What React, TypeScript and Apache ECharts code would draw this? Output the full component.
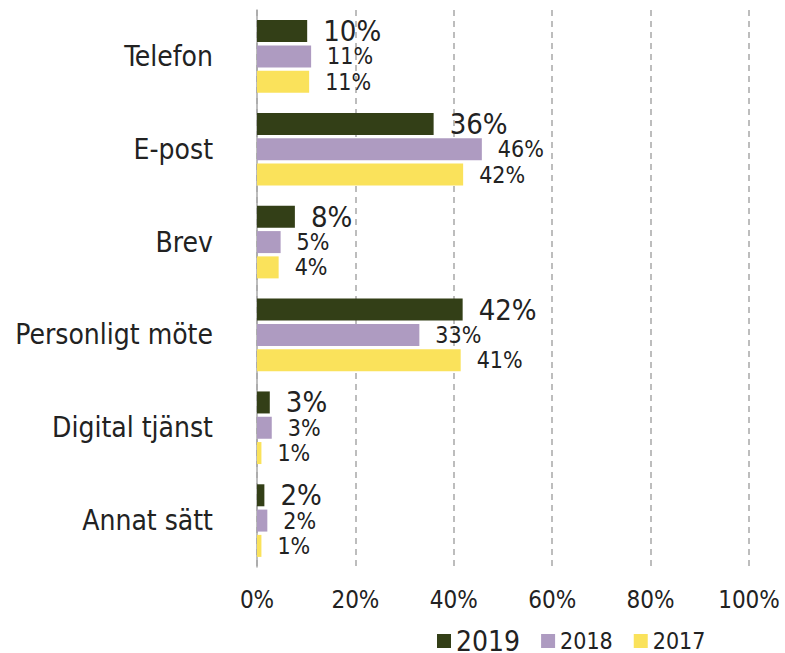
import React, { useEffect, useRef } from "react";
import * as echarts from "echarts";

const categories = ["Telefon", "E-post", "Brev", "Personligt möte", "Digital tjänst", "Annat sätt"];
const years = ["2019", "2018", "2017"];
const values2019 = [10.2, 35.9, 7.7, 41.8, 2.6, 1.5];
const values2018 = [11.0, 45.7, 4.8, 33.0, 3.0, 2.1];
const values2017 = [10.6, 41.9, 4.4, 41.4, 0.9, 0.9];
const labels2019 = [10, 36, 8, 42, 3, 2];
const labels2018 = [11, 46, 5, 33, 3, 2];
const labels2017 = [11, 42, 4, 41, 1, 1];
const xTicks = [0, 20, 40, 60, 80, 100];

const FONT = '"DejaVu Sans Condensed", "DejaVu Sans", sans-serif';
const colors = ["#333f17", "#ae9bc1", "#fae25b"];

export default function App() {
  const ref = useRef<HTMLDivElement>(null);
  useEffect(() => {
    if (!ref.current) return;
    const chart = echarts.init(ref.current, null, { renderer: "svg" });
    const seriesData = [values2019, values2018, values2017];
    const seriesLabels = [labels2019, labels2018, labels2017];
    const labelSizes = [29, 23, 23];
    chart.setOption({
      animation: false,
      backgroundColor: "#ffffff",
      textStyle: { fontFamily: FONT },
      grid: { left: 257, right: 36, top: 10, bottom: 86, containLabel: false },
      legend: {
        left: 432,
        top: 622,
        itemWidth: 14,
        itemHeight: 14,
        itemGap: 21,
        icon: "rect",
        data: years.map((y, i) => ({
          name: y,
          textStyle: {
            fontSize: i === 0 ? 28 : 23,
            lineHeight: i === 0 ? 28 : 23,
            color: "#222222",
            fontFamily: FONT,
          },
        })),
      },
      xAxis: {
        type: "value",
        min: xTicks[0],
        max: xTicks[xTicks.length - 1],
        interval: 20,
        axisLine: { show: false },
        axisTick: { show: false },
        axisLabel: {
          formatter: (v: number) => v + "%",
          fontSize: 24,
          color: "#222222",
          margin: 21,
          fontFamily: FONT,
        },
        splitLine: {
          show: true,
          lineStyle: { color: "#a8a8a8", type: [6, 5], width: 1.5 },
        },
      },
      yAxis: {
        type: "category",
        data: categories,
        inverse: true,
        axisLine: { show: true, lineStyle: { color: "#a8a8a8", width: 1.5 } },
        axisTick: { show: false },
        axisLabel: { fontSize: 28, color: "#222222", margin: 44, fontFamily: FONT },
      },
      series: years.map((y, i) => ({
        name: y,
        type: "bar",
        data: seriesData[i],
        barWidth: 22,
        barGap: "15%",
        itemStyle: { color: colors[i] },
        label: {
          show: true,
          position: "right",
          distance: 16,
          fontSize: labelSizes[i],
          color: "#222222",
          fontFamily: FONT,
          formatter: (p: any) => seriesLabels[i][p.dataIndex] + "%",
        },
      })),
    });
    return () => chart.dispose();
  }, []);
  return (
    <div
      ref={ref}
      style={{ position: "fixed", left: 0, top: 0, width: 785, height: 653 }}
    />
  );
}
